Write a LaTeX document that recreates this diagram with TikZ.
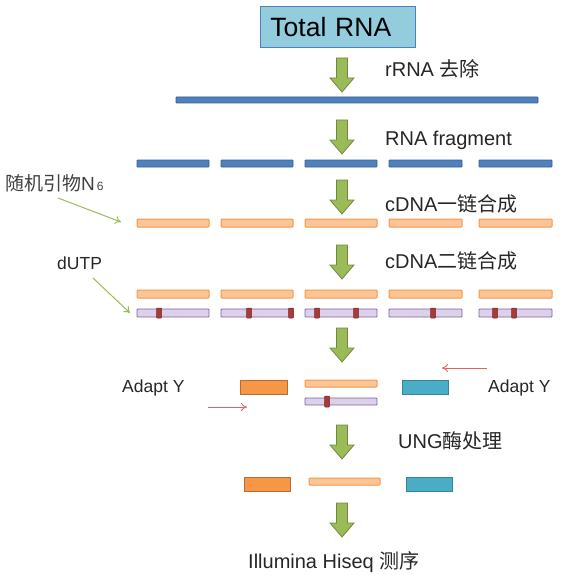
\documentclass[tikz,border=0pt]{standalone}
\usepackage{fontspec}
\setmainfont{Liberation Sans}
\newfontfamily\cjk{Noto Sans CJK SC}
\usetikzlibrary{arrows.meta}
\definecolor{gfill}{HTML}{9BBB59}
\definecolor{gline}{HTML}{71893F}
\definecolor{bfill}{HTML}{4F81BD}
\definecolor{bline}{HTML}{385D8A}
\definecolor{ofill}{HTML}{FAC597}
\definecolor{oline}{HTML}{F79646}
\definecolor{pfill}{HTML}{DCD0EA}
\definecolor{pline}{HTML}{7E64A2}
\definecolor{mfill}{HTML}{A83A38}
\definecolor{mline}{HTML}{7A2626}
\definecolor{afill}{HTML}{F79646}
\definecolor{aline}{HTML}{B66D31}
\definecolor{tfill}{HTML}{4BACC6}
\definecolor{tline}{HTML}{31859C}
\definecolor{boxfill}{HTML}{93CDDD}
\definecolor{boxline}{HTML}{4F81BD}
\definecolor{redarr}{HTML}{E06666}
\definecolor{txtgray}{HTML}{404040}
\newcommand\blockarrow[2]{%
  \begin{scope}[shift={(#1,#2)}]
    \filldraw[garrow] (-5.5,0) -- (5.5,0) -- (5.5,20) -- (12,20) -- (0,34) -- (-12,20) -- (-5.5,20) -- cycle;
  \end{scope}}
\newcommand\mymark[1]{\filldraw[marker] (#1-2.5,308) rectangle (#1+2.5,318);}
\begin{document}
\begin{tikzpicture}[x=1pt,y=-1pt,
  garrow/.style={fill=gfill,draw=gline,line width=0.8pt,line join=miter},
  bluebar/.style={fill=bfill,draw=bline,line width=0.8pt,rounded corners=0.8pt},
  obar/.style={fill=ofill,draw=oline,line width=1pt,rounded corners=0.8pt},
  pbar/.style={fill=pfill,draw=pline,line width=0.9pt,rounded corners=0.8pt},
  marker/.style={fill=mfill,draw=mline,line width=0.5pt,rounded corners=0.8pt},
  adaptL/.style={fill=afill,draw=aline,line width=0.9pt},
  adaptR/.style={fill=tfill,draw=tline,line width=0.9pt},
  lbl/.style={inner sep=0pt,anchor=base west,text=black!85,font=\fontsize{20}{24}\selectfont},
  smalllbl/.style={inner sep=0pt,anchor=base west,text=black!85,font=\fontsize{17.5}{20}\selectfont},
  thinG/.style={draw=gfill,line width=1pt,-{To[length=6pt,width=8pt]}},
  thinR/.style={draw=redarr,line width=0.9pt,-{To[length=6pt,width=8pt]}}]
\useasboundingbox (0,0) rectangle (565,575);

% Total RNA box
\node[fill=boxfill,draw=boxline,line width=0.9pt,anchor=north west,minimum width=155pt,minimum height=41pt,
  text width=135pt,inner xsep=10pt,align=left,font=\fontsize{26.5}{30}\selectfont] (total) at (260,6) {Total RNA};

% arrows
\blockarrow{342}{58}
\blockarrow{342}{120}
\blockarrow{342}{180}
\blockarrow{342}{245}
\blockarrow{342}{328}
\blockarrow{342}{425}
\blockarrow{342}{503}

% labels
\node[lbl] (l1) at (385,77) {rRNA {\cjk 去除}};
\node[lbl] (l2) at (385,146) {RNA fragment};
\node[lbl] (l3) at (385,211) {cDNA{\cjk 一链合成}};
\node[lbl] (l4) at (385,268) {cDNA{\cjk 二链合成}};
\node[lbl] (l6) at (398,448) {UNG{\cjk 酶处理}};
\node[lbl] (l7) at (248,568) {Illumina Hiseq {\cjk 测序}};

% long blue bar
\path[bluebar] (176,97) rectangle (538,103);

% fragments
\foreach \a/\b in {137/209,221/293,305/377,389/462,479/552}{
  \path[bluebar] (\a,160) rectangle (\b,167);
  \path[obar] (\a,219) rectangle (\b,227);
  \path[obar] (\a,290) rectangle (\b,298);
  \path[pbar] (\a,309) rectangle (\b,317);
}
\foreach \m in {159,249,291,317,356,433,495,514}{\mymark{\m}}

% primer label
\node[inner sep=0pt,anchor=base west,text=txtgray,font=\fontsize{19}{22}\selectfont] (primer) at (5,190)
  {{\cjk 随机引物}N{\fontsize{12}{14}\selectfont\,6}};
\coordinate (p1s) at (58,198);
\coordinate (p1e) at (121,222);
\draw[thinG] (p1s) -- (p1e);

\node[smalllbl] (dutp) at (57,269) {dUTP};
\coordinate (p2s) at (93,278);
\coordinate (p2e) at (130,313);
\draw[thinG] (p2s) -- (p2e);

% adapters
\node[smalllbl] (adl) at (122,392) {Adapt Y};
\node[smalllbl] (adr) at (488,392) {Adapt Y};
\path[adaptL] (240,380) rectangle (287,394);
\path[obar] (305,380) rectangle (377,387);
\path[pbar] (305,398) rectangle (377,405);
\filldraw[marker] (324.5,396) rectangle (329.5,407);
\path[adaptR] (402,380) rectangle (448,394);
\coordinate (r1s) at (487,368);
\coordinate (r1e) at (442,368);
\draw[thinR] (r1s) -- (r1e);
\coordinate (r2s) at (208,407);
\coordinate (r2e) at (247,407);
\draw[thinR] (r2s) -- (r2e);

% after UNG
\path[adaptL] (244,477) rectangle (290,491);
\path[obar] (309,478) rectangle (380,485);
\path[adaptR] (406,477) rectangle (452,491);
\end{tikzpicture}
\end{document}
